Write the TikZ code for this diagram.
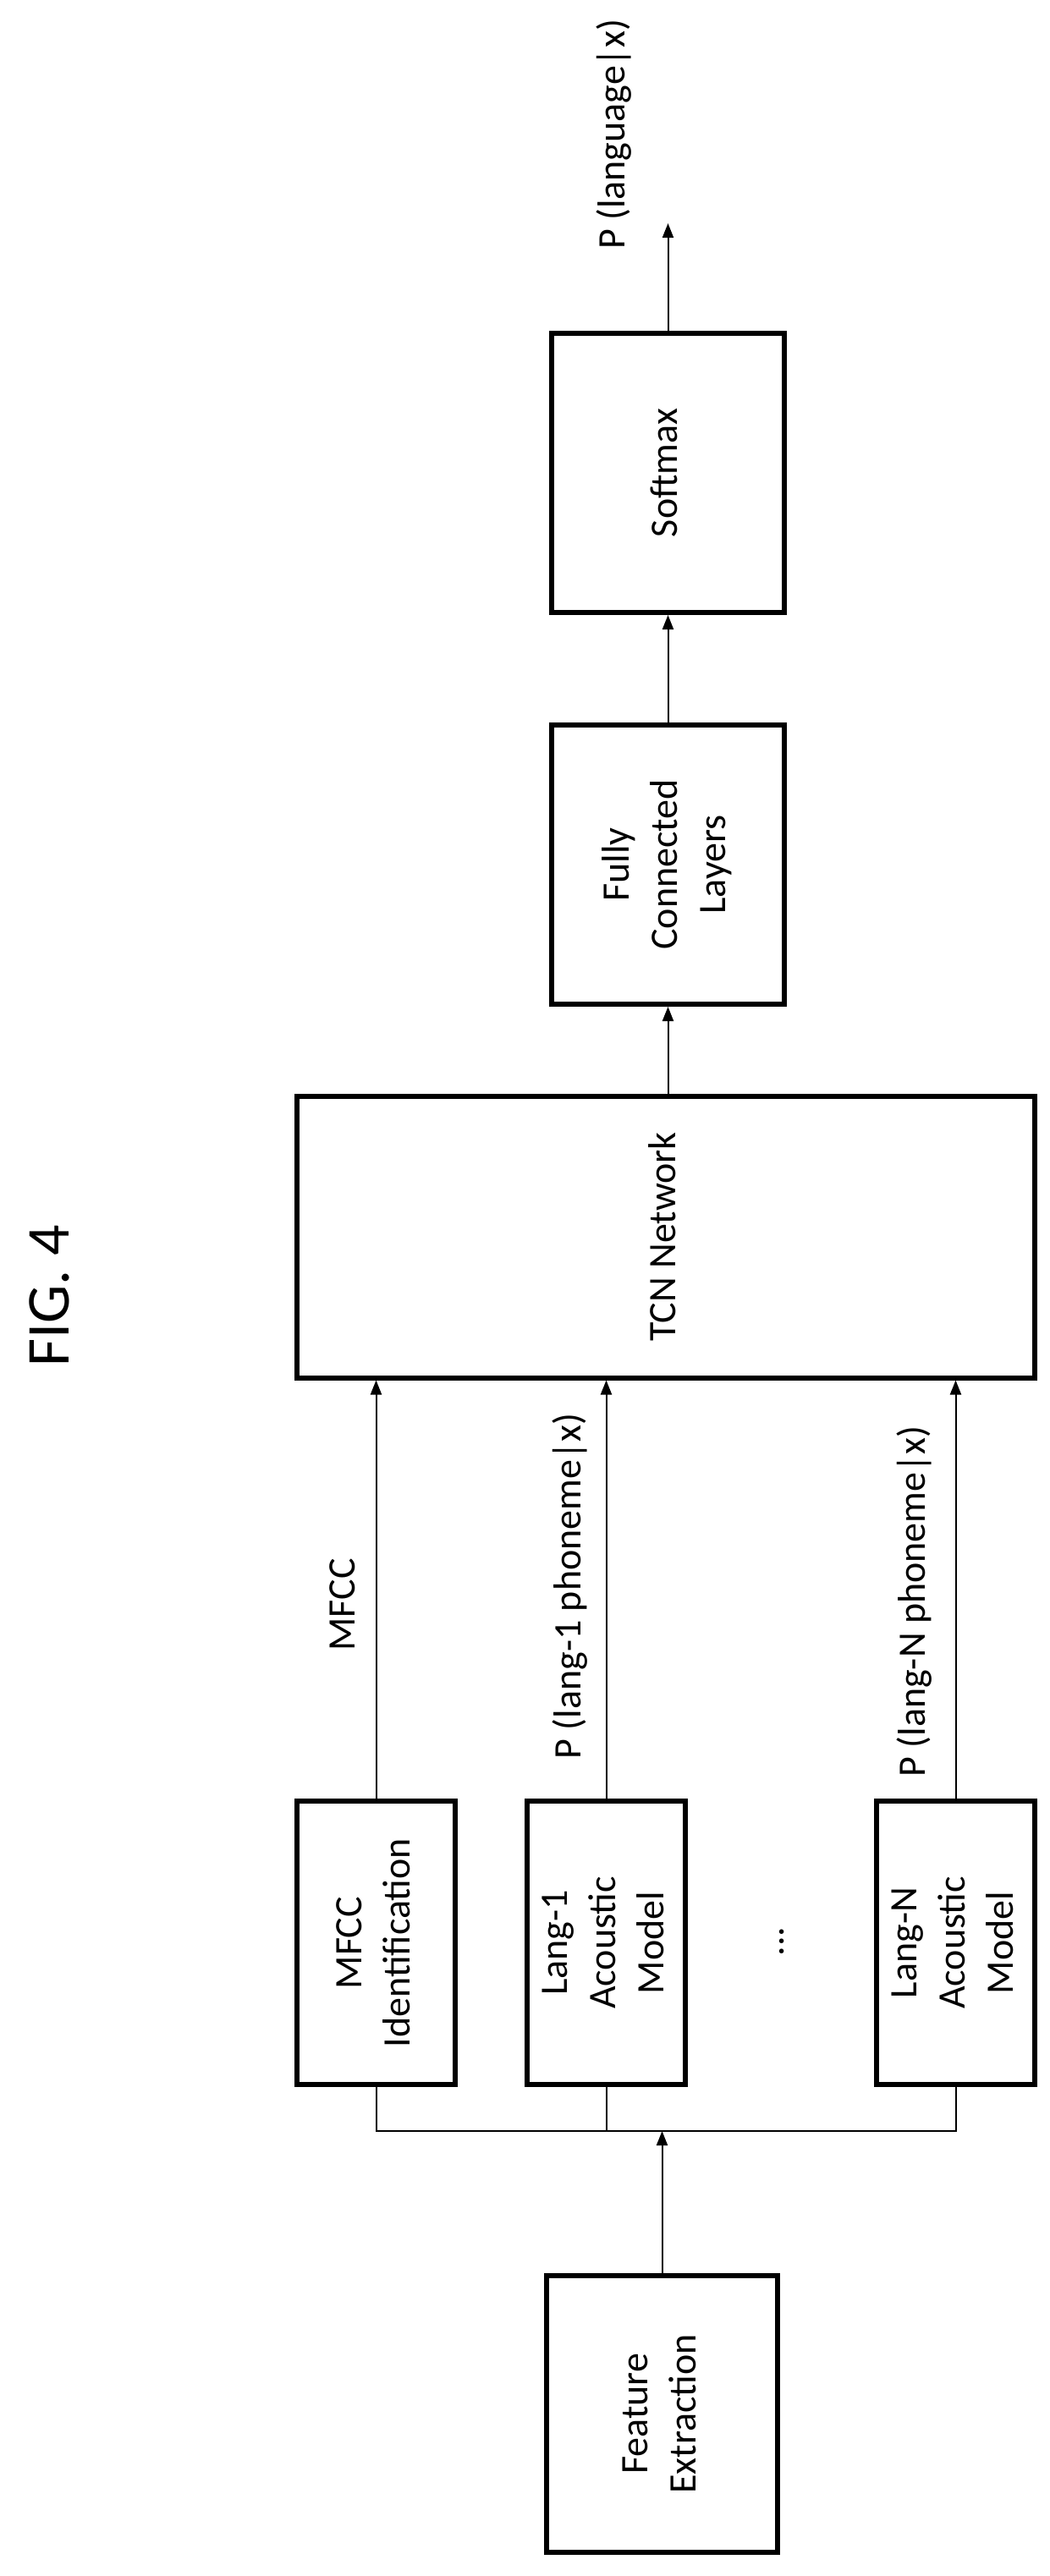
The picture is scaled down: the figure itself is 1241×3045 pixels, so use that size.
\documentclass[tikz,border=0pt]{standalone}
\usepackage{fontspec}
\setmainfont{Carlito}
\usetikzlibrary{arrows.meta}
\newcommand{\rt}[1]{\rotatebox{90}{\begin{tabular}{@{}c@{}}#1\end{tabular}}}
\begin{document}
\begin{tikzpicture}[x=1pt,y=-1pt,
  box/.style={draw,line width=6pt,inner sep=0pt,font=\fontsize{46}{57}\selectfont},
  lbl/.style={inner sep=0pt,rotate=90,font=\fontsize{46}{57}\selectfont},
  con/.style={line width=2pt},
  arr/.style={line width=2pt,-{Triangle[length=17pt,width=13pt]}}]
\useasboundingbox[fill=white] (0,0) rectangle (1241,3045);
\node[box,minimum width=275pt,minimum height=330pt] (soft) at (789.5,559) {\rt{Softmax}};
\node[box,minimum width=275pt,minimum height=330pt] (fc) at (789.5,1022) {\rt{Fully\\Connected\\Layers}};
\node[box,minimum width=872pt,minimum height=333pt] (tcn) at (787,1462) {\rt{TCN Network}};
\node[box,minimum width=187pt,minimum height=335pt] (mfcc) at (444.5,2296.5) {\rt{MFCC\\Identification}};
\node[box,minimum width=187pt,minimum height=335pt] (l1) at (716.5,2296.5) {\rt{Lang-1\\Acoustic\\Model}};
\node[box,minimum width=187pt,minimum height=335pt] (ln) at (1129.5,2296.5) {\rt{Lang-N\\Acoustic\\Model}};
\node[box,minimum width=273pt,minimum height=327pt] (feat) at (782.5,2853.5) {\rt{Feature\\Extraction}};
\coordinate (out) at (789.5,264);
\coordinate (bus) at (787,2519);
\draw[arr] (soft.north) -- (out);
\draw[arr] (fc.north) -- (soft.south);
\draw[arr] (fc.south|-tcn.north) -- (fc.south);
\draw[arr] (mfcc.north) -- (mfcc.north|-tcn.south);
\draw[arr] (l1.north) -- (l1.north|-tcn.south);
\draw[arr] (ln.north) -- (ln.north|-tcn.south);
\draw[con] (mfcc.south) -- (mfcc.south|-bus) -- (ln.south|-bus) -- (ln.south);
\draw[con] (l1.south) -- (l1.south|-bus);
\draw[arr] (feat.north) -- (feat.north|-bus);
\node[lbl] (lout) at (726,159) {P (language|x)};
\node[lbl] (lmfcc) at (405,1897) {MFCC};
\node[lbl] (ll1) at (674,1875) {P (lang-1 phoneme|x)};
\node[lbl] (lln) at (1081,1893) {P (lang-N phoneme|x)};
\node[lbl] (dots) at (924,2295) {...};
\node[lbl,font=\fontsize{72}{86}\selectfont] (fig) at (58,1532) {FIG. 4};
\end{tikzpicture}
\end{document}
